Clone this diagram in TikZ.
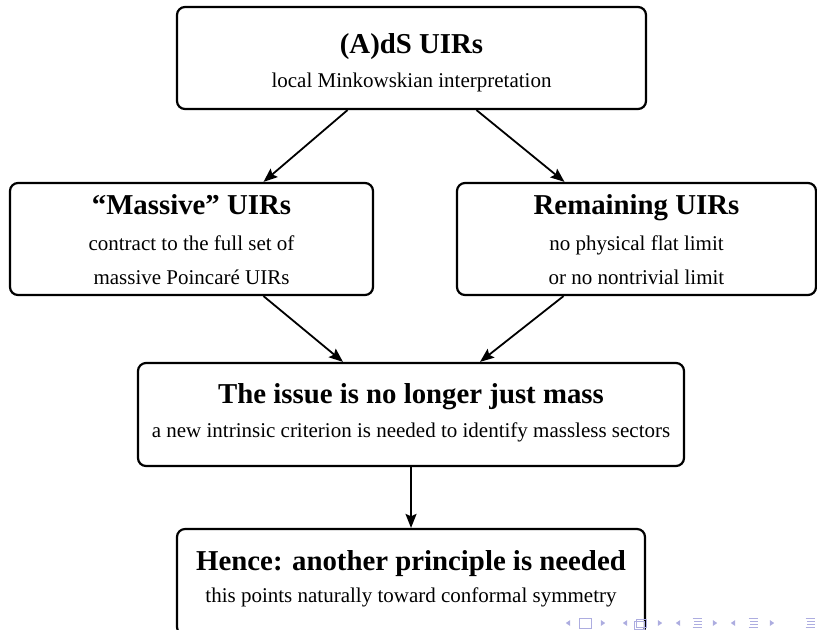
\documentclass[tikz,border=0pt]{standalone}
\usepackage{fontspec}
\setmainfont{Liberation Serif}
\usetikzlibrary{arrows.meta}

\definecolor{navcol}{RGB}{173,173,224}

\tikzset{
  box/.style={draw, line width=1.1pt, rounded corners=4pt, inner sep=0pt},
  headtext/.style={anchor=base, inner sep=0pt, font=\fontsize{14.4}{17}\selectfont\bfseries},
  bodytext/.style={anchor=base, inner sep=0pt, font=\fontsize{10.5}{13}\selectfont},
  arr/.style={line width=0.9pt, -{Stealth[length=7pt,width=5.5pt,inset=1.2pt]}},
  navtri/.style={fill=navcol, draw=none},
  navline/.style={draw=navcol, line width=0.45pt},
}

\begin{document}
\begin{tikzpicture}[x=0.5pt, y=-0.5pt]
  \useasboundingbox (0,0) rectangle (817,629);

  % boxes
  \node[box, minimum width=234.5pt, minimum height=51pt]   (ads)   at (411.5,58)  {};
  \node[box, minimum width=181.5pt, minimum height=56pt]   (mass)  at (191.5,239) {};
  \node[box, minimum width=179.5pt, minimum height=56pt]   (rem)   at (636.5,239) {};
  \node[box, minimum width=273pt,   minimum height=51.5pt] (mid)   at (411,414.5) {};
  \node[box, minimum width=234pt,   minimum height=53pt]   (hence) at (411,582)   {};

  % texts
  \node[headtext] (adsT)  at (411.5,53) {(A)dS UIRs};
  \node[bodytext] (adsB)  at (411.5,87) {local Minkowskian interpretation};

  \node[headtext] (massT)  at (191.5,214) {“Massive” UIRs};
  \node[bodytext] (massB1) at (191.5,250) {contract to the full set of};
  \node[bodytext] (massB2) at (191.5,284) {massive Poincaré UIRs};

  \node[headtext] (remT)  at (636.5,214) {Remaining UIRs};
  \node[bodytext] (remB1) at (636.5,250) {no physical flat limit};
  \node[bodytext] (remB2) at (636.5,284) {or no nontrivial limit};

  \node[headtext] (midT) at (411,403) {The issue is no longer just mass};
  \node[bodytext] (midB) at (411,437) {a new intrinsic criterion is needed to identify massless sectors};

  \node[headtext] (henceT) at (411,570) {Hence: another principle is needed};
  \node[bodytext] (henceB) at (411,602) {this points naturally toward conformal symmetry};

  % connectors
  \draw[arr] ([xshift=-32pt]ads.south)  -- ([xshift=36pt]mass.north);
  \draw[arr] ([xshift=32.5pt]ads.south) -- ([xshift=-36pt]rem.north);
  \draw[arr] ([xshift=36pt]mass.south)  -- ([xshift=-34pt]mid.north);
  \draw[arr] ([xshift=-36.5pt]rem.south) -- ([xshift=34.5pt]mid.north);
  \draw[arr] (mid.south) -- (hence.north);

  % navigation symbols
  \foreach \x in {568,625,678,733}
    \fill[navtri] (\x-2.2,623) -- (\x+2.2,620) -- (\x+2.2,626) -- cycle;
  \foreach \x in {603,660,715,772}
    \fill[navtri] (\x+2.2,623) -- (\x-2.2,620) -- (\x-2.2,626) -- cycle;
  % slide icon
  \draw[navline] (579,618) rectangle (591,628);
  % frame icon
  \draw[navline] (636,619) rectangle (646,627);
  \draw[navline] (634,621) rectangle (644,629);
  % section / subsection icons
  \foreach \x in {697,753,810} {
    \draw[navline] (\x-4.5,618.5) -- (\x+4.5,618.5);
    \draw[navline] (\x-3,621.5) -- (\x+4.5,621.5);
    \draw[navline] (\x-3,624.5) -- (\x+4.5,624.5);
    \draw[navline] (\x-4.5,627.5) -- (\x+4.5,627.5);
  }
\end{tikzpicture}
\end{document}
